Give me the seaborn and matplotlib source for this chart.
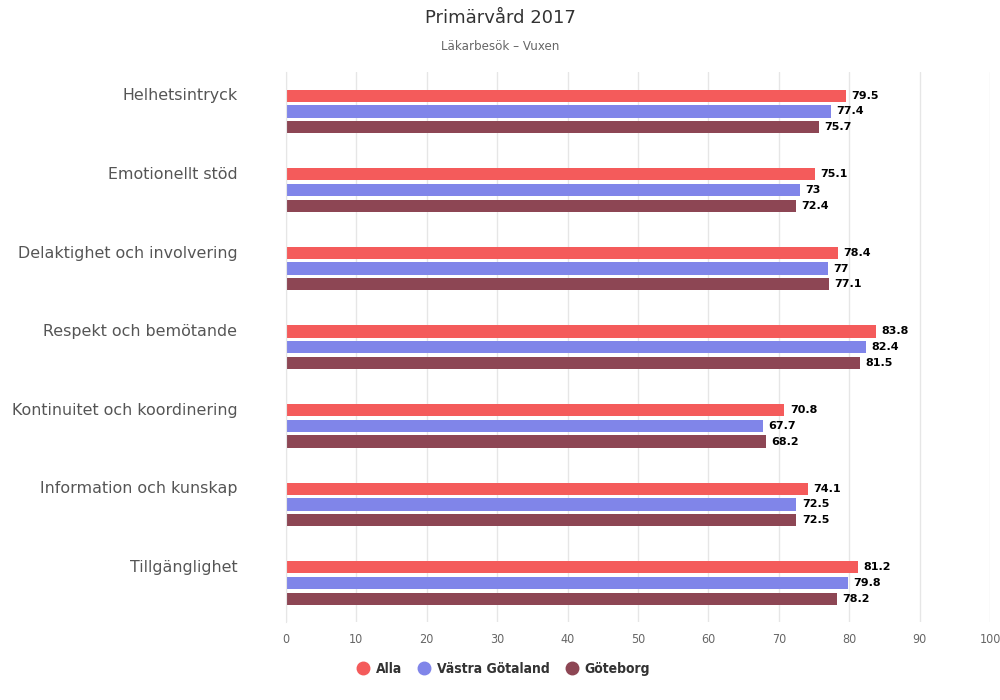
import pandas as pd
import matplotlib.pyplot as plt
import matplotlib.transforms as mtransforms
from matplotlib.lines import Line2D
import seaborn as sns

# Data
categories = ["Helhetsintryck", "Emotionellt stöd", "Delaktighet och involvering",
              "Respekt och bemötande", "Kontinuitet och koordinering",
              "Information och kunskap", "Tillgänglighet"]
series = ["Alla", "Västra Götaland", "Göteborg"]
alla = [79.5, 75.1, 78.4, 83.8, 70.8, 74.1, 81.2]
vastra_gotaland = [77.4, 73, 77, 82.4, 67.7, 72.5, 79.8]
goteborg = [75.7, 72.4, 77.1, 81.5, 68.2, 72.5, 78.2]
colors = ["#f45b5b", "#8085e9", "#8d4654"]

# Long format for seaborn
rows = []
for name, vals in zip(series, [alla, vastra_gotaland, goteborg]):
    for cat, v in zip(categories, vals):
        rows.append({"Kategori": cat, "Serie": name, "Värde": v})
df = pd.DataFrame(rows)

sns.set_style("white")
plt.rcParams['font.family'] = ['DejaVu Sans']

fig = plt.figure(figsize=(10, 7), dpi=100)
ax = fig.add_axes([0.286, 0.111, 0.704, 0.786])

sns.barplot(data=df, y="Kategori", x="Värde", hue="Serie", order=categories,
            hue_order=series, palette=colors, orient="h", width=0.6, gap=0.22,
            saturation=1, legend=False, ax=ax, errorbar=None, linewidth=0)

# Value labels
for cont in ax.containers:
    ax.bar_label(cont, labels=[f"{b.get_width():g}" for b in cont], padding=4,
                 fontsize=8, fontweight="bold", color="black")

ax.set_xlim(0, 100)
ax.set_xticks(range(0, 101, 10))
ax.set_xlabel("")
ax.set_ylabel("")
ax.grid(axis="x", color="#e6e6e6", linewidth=1)
ax.set_axisbelow(True)
for side in ["top", "right", "bottom"]:
    ax.spines[side].set_visible(False)
ax.spines["left"].set_color("#e6e6e6")

ax.tick_params(axis="x", length=0, pad=8, labelsize=9, labelcolor="#666666")
ax.tick_params(axis="y", length=6, color="#c0c0c0", pad=29, labelsize=11.4,
               labelcolor="#555555")
for lab in ax.get_xticklabels():
    lab.set_fontstretch("condensed")
# Highcharts-like: category labels sit above the group centre
shift = mtransforms.ScaledTranslation(0, 0.17, fig.dpi_scale_trans)
for lab in ax.get_yticklabels():
    lab.set_transform(lab.get_transform() + shift)

fig.text(0.5, 0.974, "Primärvård 2017", ha="center", va="center",
         fontsize=13, color="#333333")
fig.text(0.5, 0.933, "Läkarbesök – Vuxen", ha="center", va="center",
         fontsize=8.6, color="#666666")

handles = [Line2D([], [], marker="o", linestyle="", markersize=9,
                  markerfacecolor=c, markeredgecolor=c) for c in colors]
leg = fig.legend(handles, series, loc="center", bbox_to_anchor=(0.503, 0.044),
                 ncol=3, frameon=False, handlelength=1.0, handletextpad=0.4,
                 columnspacing=1.1,
                 prop={"size": 10, "weight": "bold", "stretch": "condensed"})
for t in leg.get_texts():
    t.set_color("#333333")

fig.savefig("out.png", dpi=100)
